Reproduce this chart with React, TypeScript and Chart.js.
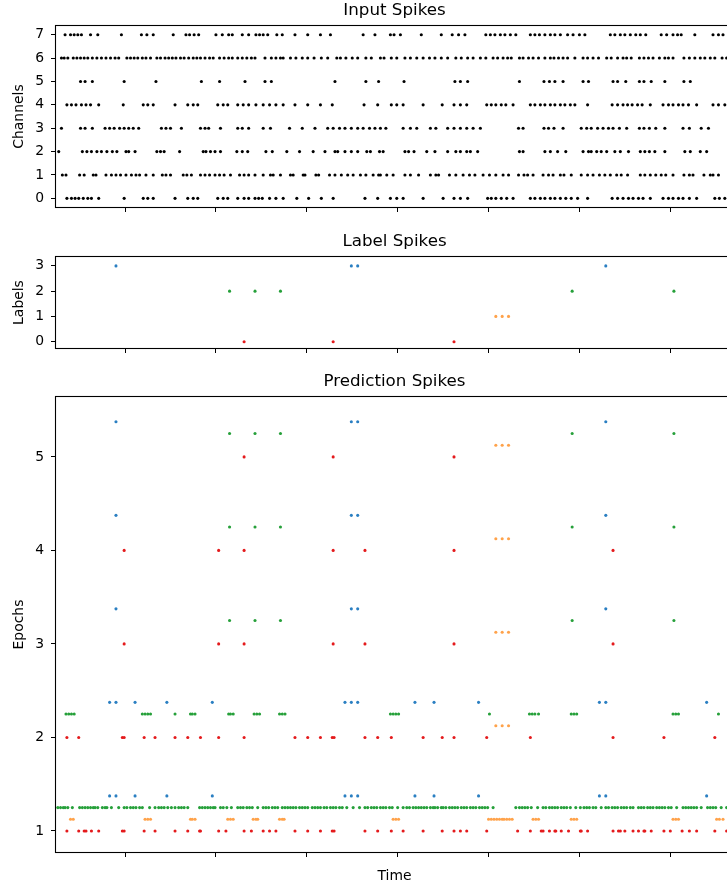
import React, { useEffect, useRef } from 'react';
import { Chart, registerables } from 'chart.js';

Chart.register(...registerables);

const FONT = "'DejaVu Sans', 'Liberation Sans', sans-serif";

// ---- Time axis ----
const TIME_TICKS = [100, 200, 300, 400, 500, 600, 700, 800];
const X_MIN = 24;
const X_MAX = 769;

// ---- Input spikes (one array per channel, spike times) ----
const CHANNEL_TICKS = [0, 1, 2, 3, 4, 5, 6, 7];
const CH0 = [36,41,45,49,54,59,63,71,99,120,125,131,155,169,175,180,202,208,213,224,231,236,243,247,251,259,266,274,289,302,316,329,364,378,392,399,406,428,450,462,469,477,499,503,508,514,520,527,546,551,557,562,568,573,579,585,591,598,609,636,642,648,654,659,665,670,678,692,698,703,709,714,721,729,749,754,760];
const CH1 = [31,35,50,55,65,68,79,85,90,95,101,107,112,116,123,131,141,145,150,164,168,173,183,188,193,199,204,209,216,226,231,236,243,252,260,263,271,282,285,296,298,310,313,325,331,338,345,351,359,365,373,379,381,388,395,408,414,423,436,442,445,457,464,472,479,485,494,501,508,516,522,533,539,543,549,560,566,571,579,583,591,602,609,615,622,628,634,641,646,653,667,672,678,684,690,695,703,715,721,725,737,744,747,753];
const CH2 = [27,53,58,63,69,74,80,86,91,101,104,111,135,139,143,160,186,189,194,199,205,223,229,235,255,262,278,292,307,320,331,334,342,349,356,366,370,380,384,408,412,418,432,441,455,464,469,476,480,488,534,538,562,568,576,585,604,610,613,619,624,630,639,645,654,667,672,677,683,694,716,722,733,740];
const CH3 = [30,51,56,64,78,83,88,94,99,104,109,115,140,145,150,162,183,188,192,205,224,229,236,252,260,281,295,309,323,329,336,342,349,356,362,369,375,381,387,406,414,421,436,442,455,462,469,476,483,491,533,538,561,566,572,582,602,608,613,620,626,632,637,644,652,666,671,677,684,694,714,721,734,742];
const CH4 = [36,41,46,52,57,62,71,98,120,125,131,155,169,175,180,202,208,213,224,230,236,244,252,259,266,274,287,301,315,328,363,378,393,399,406,428,449,462,469,476,498,503,508,514,519,527,546,551,557,562,568,573,579,584,590,595,609,636,642,648,653,658,664,669,678,692,698,703,709,714,720,729,747,753,760];
const CH5 = [51,56,64,99,134,184,204,232,254,261,331,365,379,407,463,469,477,534,561,567,573,582,604,610,637,642,651,666,671,679,694,715,722];
const CH6 = [30,33,37,43,47,51,55,59,64,69,74,79,84,89,93,102,106,110,114,119,123,128,135,139,144,148,152,156,161,165,170,175,179,183,188,193,197,204,209,214,218,224,229,234,239,243,254,261,266,271,274,282,288,295,301,308,316,323,333,337,343,350,356,365,371,381,385,393,399,408,414,421,428,435,441,448,455,464,470,477,483,491,497,505,510,516,521,525,534,538,544,549,555,562,568,572,577,582,587,595,604,609,615,621,630,635,642,648,652,657,666,671,676,681,688,694,698,703,715,721,727,733,738,744,749,757,762];
const CH7 = [34,40,44,48,52,62,70,96,118,124,131,153,167,171,176,181,200,207,214,218,229,236,244,248,252,257,267,273,287,301,315,326,362,375,392,396,403,426,448,460,467,474,497,502,507,513,518,524,530,546,551,556,562,568,573,579,587,593,600,606,634,639,645,650,656,662,667,673,690,696,703,708,712,727,747,753,758];
const CHANNELS = [CH0, CH1, CH2, CH3, CH4, CH5, CH6, CH7];

// ---- Label spikes ----
const LABEL_TICKS = [0, 1, 2, 3];
const LABEL_0 = [231, 329, 462];
const LABEL_1 = [508, 515, 522];
const LABEL_2 = [215, 243, 271, 592, 704];
const LABEL_3 = [90, 349, 356, 629];
const LABELS = [LABEL_0, LABEL_1, LABEL_2, LABEL_3];
const LABEL_COLORS = ['#e41a1c', '#ffa24a', '#26a03a', '#2a7fc2'];

// ---- Prediction spikes (epoch e, label l drawn at e + l * LABEL_ROW_STEP) ----
const EPOCH_TICKS = [1, 2, 3, 4, 5];
const LABEL_ROW_STEP = 0.125;
const E1_L0 = [36,49,55,57,63,71,97,99,121,133,155,169,182,183,203,211,231,239,252,259,266,287,301,315,328,330,364,378,393,406,428,449,462,469,476,498,532,546,558,560,567,573,574,580,588,601,602,609,637,643,645,650,659,665,671,672,679,693,700,713,721,729,749,762];
const E1_L1 = [40,43,122,125,128,172,174,177,213,216,219,241,244,246,270,273,275,395,398,401,500,503,506,509,512,515,517,520,523,526,549,552,555,591,594,597,703,706,709,751,754,758];
const E1_L2 = [26,29,32,34,37,42,50,53,56,59,62,65,67,70,75,78,80,85,93,99,102,106,109,112,116,119,127,133,137,140,143,147,151,155,159,162,165,169,182,185,188,191,194,197,199,205,208,212,217,224,227,230,234,237,240,246,252,255,258,262,265,268,273,276,279,282,285,288,292,295,298,301,306,309,312,315,319,322,326,329,332,336,339,344,351,358,364,367,371,374,377,381,384,387,391,394,400,406,410,413,417,420,423,426,429,432,436,439,441,444,448,450,453,457,460,463,466,470,473,476,480,483,486,490,493,496,499,505,530,534,537,540,543,547,554,560,563,567,570,573,576,580,583,586,590,596,601,605,608,611,615,618,624,629,632,636,639,642,646,649,652,656,659,665,668,671,675,678,681,685,688,691,694,698,701,707,714,717,720,723,726,729,734,741,744,747,750,756,762];
const E1_L3 = [83,90,111,146,196,342,349,356,419,440,489,622,629,740];
const E2_L0 = [36,49,97,99,121,133,155,169,183,203,231,287,301,315,328,330,364,378,393,428,449,462,498,546,637,693,749];
const E2_L1 = [508,515,522];
const E2_L2 = [35,38,41,44,119,122,125,128,155,172,174,177,214,216,219,242,245,248,270,273,276,392,395,398,401,501,545,548,551,555,591,594,597,703,706,709,753];
const E2_L3 = [83,90,111,146,196,342,349,356,419,440,489,622,629,740];
const E3_L0 = [99,203,231,329,364,462,637];
const E3_L1 = [508,515,522];
const E3_L2 = [215,243,271,592,704];
const E3_L3 = [90,349,356,629];
const E4_L0 = [99,203,231,329,364,462,637];
const E4_L1 = [508,515,522];
const E4_L2 = [215,243,271,592,704];
const E4_L3 = [90,349,356,629];
const E5_L0 = [231,329,462];
const E5_L1 = [508,515,522];
const E5_L2 = [215,243,271,592,704];
const E5_L3 = [90,349,356,629];
const EPOCHS = [
  [E1_L0, E1_L1, E1_L2, E1_L3],
  [E2_L0, E2_L1, E2_L2, E2_L3],
  [E3_L0, E3_L1, E3_L2, E3_L3],
  [E4_L0, E4_L1, E4_L2, E4_L3],
  [E5_L0, E5_L1, E5_L2, E5_L3],
];

// ---- helpers ----
const framePlugin = {
  id: 'frame',
  afterDatasetsDraw(chart: any) {
    const { ctx, chartArea } = chart;
    const { left, top, right, bottom } = chartArea;
    ctx.save();
    ctx.strokeStyle = '#000';
    ctx.lineWidth = 1.1;
    ctx.strokeRect(Math.round(left) - 0.5, Math.round(top) - 0.5, Math.round(right - left) + 1, Math.round(bottom - top) + 1);
    ctx.restore();
  },
};

function spikeSet(times: number[], y: number, color: string) {
  return {
    data: times.map((t) => ({ x: t, y })),
    pointRadius: 1.55,
    pointHoverRadius: 0,
    pointBorderWidth: 0,
    pointBackgroundColor: color,
    backgroundColor: color,
    borderColor: color,
    showLine: false,
  };
}

function yScale(min: number, max: number, ticks: number[], title: string) {
  return {
    type: 'linear',
    position: 'left',
    min,
    max,
    afterBuildTicks: (s: any) => {
      s.ticks = ticks.map((v) => ({ value: v }));
    },
    afterFit: (s: any) => {
      s.width = 56;
    },
    grid: { drawOnChartArea: false, drawTicks: true, tickLength: 5, color: '#000', lineWidth: 1 },
    border: { display: false },
    ticks: {
      color: '#000',
      font: { family: FONT, size: 13.9 },
      padding: 7,
      callback: (v: any) => String(v),
    },
    title: {
      display: true,
      text: title,
      color: '#000',
      font: { family: FONT, size: 13.9 },
      padding: { top: 10.7, bottom: 0 },
    },
  };
}

function xScale(height: number, title?: string) {
  return {
    type: 'linear',
    position: 'bottom',
    min: X_MIN,
    max: X_MAX,
    afterBuildTicks: (s: any) => {
      s.ticks = TIME_TICKS.filter((v) => v >= X_MIN && v <= X_MAX).map((v) => ({ value: v }));
    },
    afterFit: (s: any) => {
      s.height = height;
    },
    grid: { drawOnChartArea: false, drawTicks: true, tickLength: 5, color: '#000', lineWidth: 1 },
    border: { display: false },
    ticks: { display: false },
    title: title
      ? {
          display: true,
          text: title,
          color: '#000',
          font: { family: FONT, size: 13.9 },
          padding: { top: 0, bottom: 3.7 },
        }
      : { display: false },
  };
}

function makeConfig(title: string, datasets: any[], y: any, x: any) {
  return {
    type: 'scatter',
    data: { datasets },
    options: {
      animation: false,
      responsive: false,
      events: [],
      layout: { padding: { left: 0, right: 7, top: 0, bottom: 0 } },
      plugins: {
        legend: { display: false },
        tooltip: { enabled: false },
        title: {
          display: true,
          text: title,
          fullSize: false,
          color: '#000',
          font: { family: FONT, size: 16.7, weight: 'normal' },
          padding: { top: 0.5, bottom: 5.5 },
        },
      },
      scales: { x, y },
    },
    plugins: [framePlugin],
  };
}

export default function App() {
  const inputRef = useRef<HTMLCanvasElement>(null);
  const labelRef = useRef<HTMLCanvasElement>(null);
  const predRef = useRef<HTMLCanvasElement>(null);

  useEffect(() => {
    const inputSets = CHANNELS.map((times, ch) => spikeSet(times, ch, '#000'));
    const labelSets = LABELS.map((times, l) => spikeSet(times, l, LABEL_COLORS[l]));
    const predSets: any[] = [];
    EPOCHS.forEach((byLabel, e) => {
      byLabel.forEach((times, l) => {
        predSets.push(spikeSet(times, e + 1 + l * LABEL_ROW_STEP, LABEL_COLORS[l]));
      });
    });

    const charts = [
      new Chart(
        inputRef.current as HTMLCanvasElement,
        makeConfig('Input Spikes', inputSets, yScale(-0.37, 7.37, CHANNEL_TICKS, 'Channels'), xScale(16)) as any
      ),
      new Chart(
        labelRef.current as HTMLCanvasElement,
        makeConfig('Label Spikes', labelSets, yScale(-0.25, 3.35, LABEL_TICKS, 'Labels'), xScale(16)) as any
      ),
      new Chart(
        predRef.current as HTMLCanvasElement,
        makeConfig('Prediction Spikes', predSets, yScale(0.775, 5.64, EPOCH_TICKS, 'Epochs'), xScale(36, 'Time')) as any
      ),
    ];
    return () => charts.forEach((c) => c.destroy());
  }, []);

  return (
    <div
      style={{
        position: 'absolute',
        left: 0,
        top: 0,
        width: 727,
        height: 888,
        overflow: 'hidden',
        background: '#fff',
      }}
    >
      <canvas ref={inputRef} width={740} height={223} style={{ position: 'absolute', left: 0, top: 0, display: 'block' }} />
      <canvas ref={labelRef} width={740} height={133} style={{ position: 'absolute', left: 0, top: 231, display: 'block' }} />
      <canvas ref={predRef} width={740} height={517} style={{ position: 'absolute', left: 0, top: 371, display: 'block' }} />
    </div>
  );
}
